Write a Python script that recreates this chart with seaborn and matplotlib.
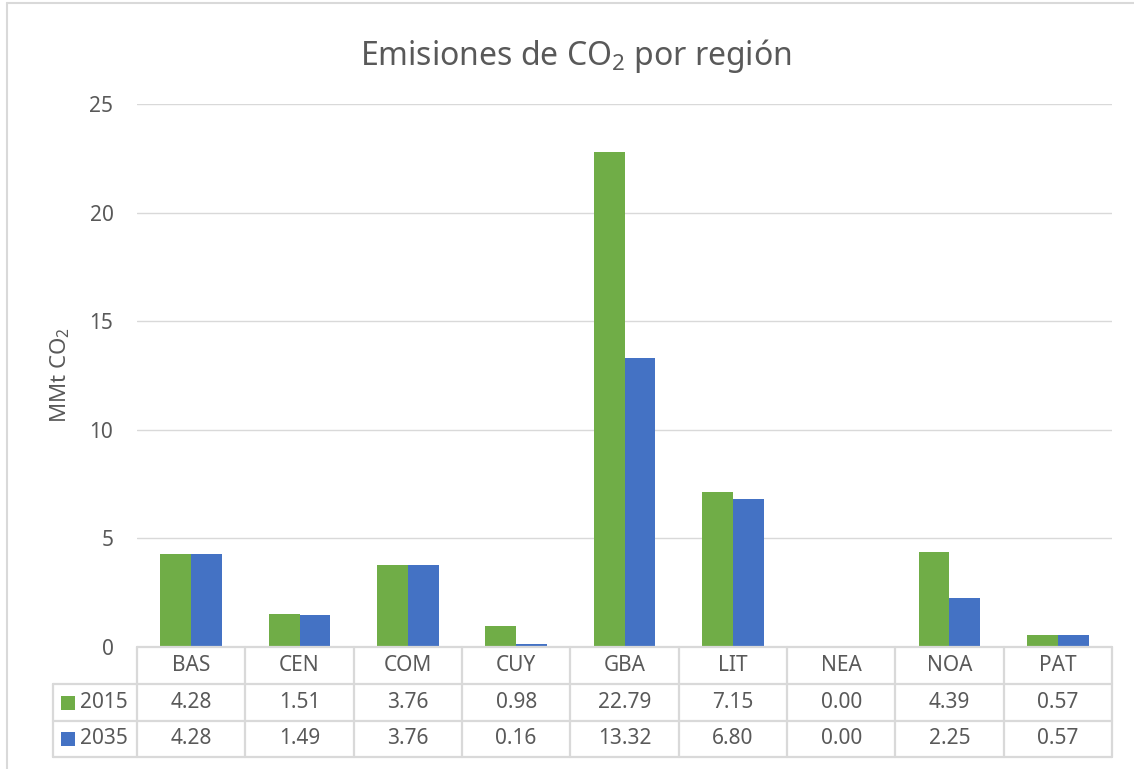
import matplotlib
matplotlib.use("Agg")
import matplotlib.pyplot as plt
from matplotlib.lines import Line2D
from matplotlib.patches import Rectangle
import pandas as pd
import seaborn as sns

# data
regions = ["BAS", "CEN", "COM", "CUY", "GBA", "LIT", "NEA", "NOA", "PAT"]
years = ["2015", "2035"]
em_2015 = [4.28, 1.51, 3.76, 0.98, 22.79, 7.15, 0.00, 4.39, 0.57]
em_2035 = [4.28, 1.49, 3.76, 0.16, 13.32, 6.80, 0.00, 2.25, 0.57]
yticks = [0, 5, 10, 15, 20, 25]

colors = ["#70AD47", "#4472C4"]
txt = "#595959"
grid = "#D9D9D9"

df = pd.DataFrame({
    "region": regions * 2,
    "year": [years[0]] * len(regions) + [years[1]] * len(regions),
    "value": em_2015 + em_2035,
})

sns.set_theme(style="white")
plt.rcParams["font.family"] = ["Noto Sans", "DejaVu Sans"]
plt.rcParams["mathtext.fontset"] = "custom"
plt.rcParams["mathtext.rm"] = "Noto Sans"
plt.rcParams["mathtext.it"] = "Noto Sans:italic"
plt.rcParams["mathtext.bf"] = "Noto Sans:bold"

fs = 15
W, H = 1134, 769
fig = plt.figure(figsize=(W / 100, H / 100), dpi=100)
x0, x1, ytop, ybot = 137, 1112, 104, 647
ax = fig.add_axes([x0 / W, 1 - ybot / H, (x1 - x0) / W, (ybot - ytop) / H])

sns.barplot(data=df, x="region", y="value", hue="year", palette=colors,
            width=0.57, saturation=1, linewidth=0, ax=ax, legend=False)
ax.set_xlim(-0.5, len(regions) - 0.5)
ax.set_ylim(0, 25)
ax.set_yticks(yticks)
ax.set_yticklabels([str(t) for t in yticks], fontsize=fs, color=txt)
ax.tick_params(axis="y", length=0, pad=17)
ax.set_xticks([])
ax.set_xlabel("")
for s in ax.spines.values():
    s.set_visible(False)
for t in yticks[1:]:
    ax.axhline(t, color=grid, lw=1, zorder=0)


# data table under the plot (pixel layout converted to axes fractions)
def fx(px):
    return (px - x0) / (x1 - x0)


def fy(py):
    return (ybot - py) / (ybot - ytop)


ax.set_ylabel("MMt CO$_\\mathrm{2}$", fontsize=16, color=txt, va="center")
ax.yaxis.set_label_coords(fx(60), 0.5)

fig.text(576 / W, 1 - 65 / H, "Emisiones de CO$_\\mathrm{2}$ por región",
         ha="center", va="baseline", fontsize=23, color=txt)

rows_y = [647, 684, 721, 757]
left_x = 53
colw = (x1 - x0) / len(regions)
col_x = [x0 + i * colw for i in range(len(regions) + 1)]
lkw = dict(color=grid, lw=1.6, transform=ax.transAxes, clip_on=False)

# horizontal lines
ax.add_line(Line2D([fx(x0), fx(x1)], [fy(rows_y[0])] * 2, **lkw))
for ry in rows_y[1:]:
    ax.add_line(Line2D([fx(left_x), fx(x1)], [fy(ry)] * 2, **lkw))
# vertical lines
for cx in col_x:
    ax.add_line(Line2D([fx(cx)] * 2, [fy(rows_y[0]), fy(rows_y[-1])], **lkw))
ax.add_line(Line2D([fx(left_x)] * 2, [fy(rows_y[1]), fy(rows_y[-1])], **lkw))

for i, r in enumerate(regions):
    cx = x0 + (i + 0.5) * colw
    ax.text(fx(cx), fy((rows_y[0] + rows_y[1]) / 2), r, transform=ax.transAxes,
            ha="center", va="center", fontsize=fs, color=txt)
    for j, vals in enumerate([em_2015, em_2035]):
        ax.text(fx(cx), fy((rows_y[j + 1] + rows_y[j + 2]) / 2), f"{vals[i]:.2f}",
                transform=ax.transAxes, ha="center", va="center", fontsize=fs, color=txt)

for j, (yr, c) in enumerate(zip(years, colors)):
    cy = (rows_y[j + 1] + rows_y[j + 2]) / 2
    ax.add_patch(Rectangle((fx(61), fy(cy + 7)), fx(75) - fx(61), fy(cy - 7) - fy(cy + 7),
                           facecolor=c, edgecolor="none", transform=ax.transAxes, clip_on=False))
    ax.text(fx(80), fy(cy), yr, transform=ax.transAxes, ha="left", va="center",
            fontsize=fs, color=txt)

# chart frame
fig.add_artist(Line2D([7 / W, 7 / W], [0, 1 - 3 / H], color=grid, lw=1.5))
fig.add_artist(Line2D([7 / W, 1], [1 - 3 / H, 1 - 3 / H], color=grid, lw=1.5))

fig.savefig("out.png", dpi=100)
